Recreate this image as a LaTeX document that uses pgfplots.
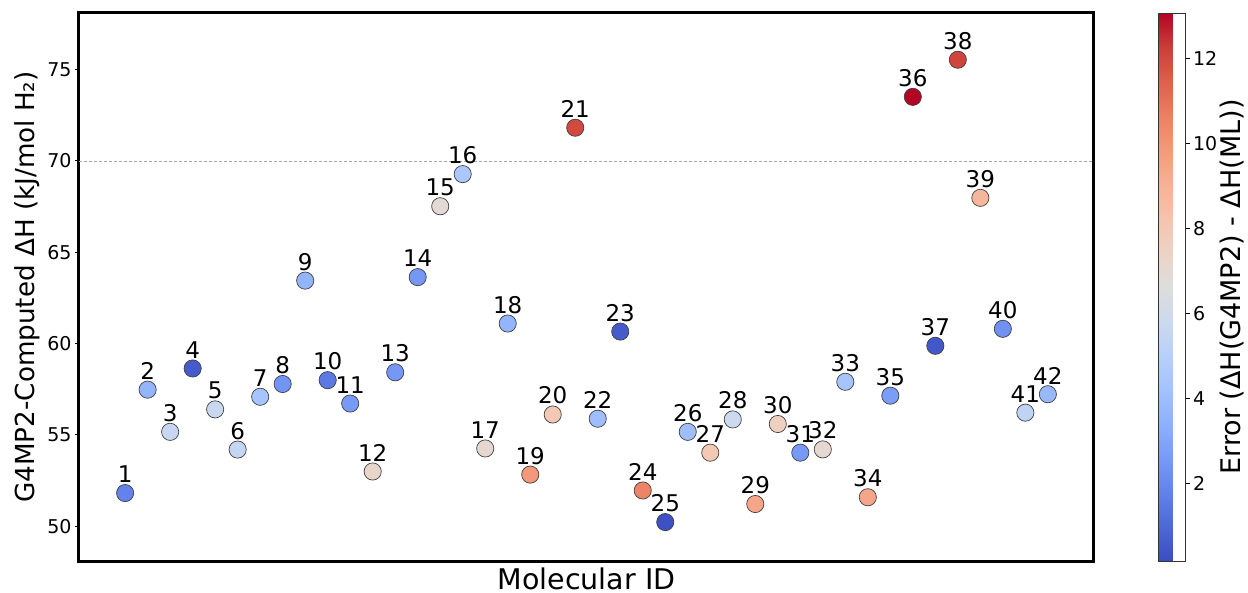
\documentclass[border=0pt]{standalone}
\usepackage{fontspec}
\setmainfont{DejaVu Sans}
\usepackage{pgfplots}
\pgfplotsset{compat=1.18}
\usepackage{pgfplotstable}

\pgfplotstableread{
id y err
1 51.82 1.8
2 57.48 3.6
3 55.17 5.6
4 58.64 0.6
5 56.40 5.7
6 54.20 5.5
7 57.09 4.3
8 57.79 2.4
9 63.45 3.6
10 58.00 1.5
11 56.72 2.6
12 53.00 7.2
13 58.43 2.5
14 63.64 2.5
15 67.52 6.9
16 69.28 4.5
17 54.26 7.0
18 61.10 3.6
19 52.83 9.9
20 56.12 8.0
21 71.82 12.0
22 55.89 4.0
23 60.66 0.6
24 51.96 10.5
25 50.23 0.3
26 55.17 4.0
27 54.03 8.0
28 55.85 5.8
29 51.22 9.4
30 55.60 7.6
31 54.03 2.6
32 54.21 7.0
33 57.91 4.3
34 51.59 9.4
35 57.15 2.7
36 73.51 13.06
37 59.88 0.5
38 75.54 12.1
39 67.98 8.8
40 60.81 2.3
41 56.22 5.3
42 57.23 3.8
}\datatable

\pgfplotsset{/pgf/number format/assume math mode=true}

\begin{document}
\begin{tikzpicture}
\begin{axis}[
  name=ax, at={(0,0)}, anchor=south west,
  scale only axis, width=1015pt, height=548pt,
  xmin=-1.05, xmax=44.05, ymin=48.1, ymax=78.1,
  xtick=\empty,
  ytick={50,55,...,75},
  ytick pos=left,
  tick align=outside, major tick length=4pt,
  tick style={line width=1pt, black},
  axis line style={line width=3pt, black},
  yticklabel style={font=\fontsize{19}{22}\selectfont},
  xlabel={Molecular ID},
  xlabel style={at={(rel axis cs:0.5,0)}, anchor=north, inner sep=0pt,
    yshift=-7pt, font=\fontsize{28.5}{31}\selectfont},
  ylabel={G4MP2-Computed ΔH (kJ/mol H₂)},
  ylabel style={font=\fontsize{26.2}{29}\selectfont},
  colormap={coolwarm}{
    rgb255=(59,76,192) rgb255=(77,104,215) rgb255=(98,130,234)
    rgb255=(119,154,247) rgb255=(141,176,254) rgb255=(163,194,255)
    rgb255=(184,208,249) rgb255=(204,217,238) rgb255=(221,221,221)
    rgb255=(236,211,197) rgb255=(245,196,173) rgb255=(247,177,148)
    rgb255=(244,154,123) rgb255=(236,127,99) rgb255=(222,96,77)
    rgb255=(203,62,56) rgb255=(180,4,38)},
  point meta min=0.17, point meta max=13.06,
  colorbar,
  colorbar style={
    at={(parent axis.north east)}, anchor=north west, xshift=56pt,
    width=27pt,
    ytick={2,4,...,12},
    yticklabel pos=right,
    ytick pos=right,
    tick align=outside, major tick length=4pt,
    tick style={line width=0.8pt, black},
    axis line style={line width=0.8pt, black!80},
    yticklabel style={font=\fontsize{19}{22}\selectfont},
    ylabel={Error (ΔH(G4MP2) - ΔH(ML))},
    ylabel shift=-4pt,
    ylabel style={font=\fontsize{27}{30}\selectfont},
  },
]
\addplot[gray!70, line width=0.7pt, dash pattern=on 3pt off 2pt, forget plot]
  coordinates {(-1.05,70) (44.05,70)};
\addplot[scatter, only marks, mark=*, mark size=8.6pt,
  scatter/use mapped color={draw=black!75, fill=mapped color},
  mark options={line width=0.7pt},
  point meta=\thisrow{err}]
  table[x=id, y=y] {\datatable};
\addplot[only marks, mark=none, forget plot,
  point meta=\thisrow{id},
  nodes near coords={\pgfmathprintnumber{\pgfplotspointmeta}},
  nodes near coords style={anchor=south, inner sep=0pt, yshift=10pt,
    font=\fontsize{23}{25}\selectfont, text=black}]
  table[x=id, y=y] {\datatable};
\end{axis}
\pgfresetboundingbox
\path (-79pt,-31pt) rectangle (1169pt,561pt);
\end{tikzpicture}
\end{document}
